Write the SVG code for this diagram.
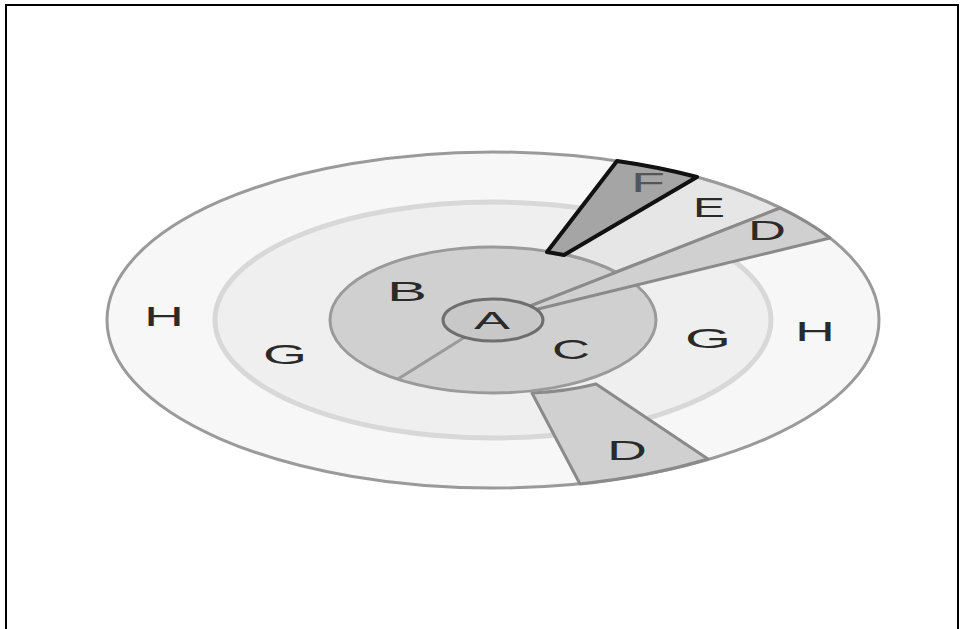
<svg xmlns="http://www.w3.org/2000/svg" width="960" height="629" viewBox="0 0 960 629">
<style>
.lbl{font-family:"Liberation Sans",Arial,sans-serif;font-size:28px;fill:#2a2a2a;text-anchor:middle;}
.ring{stroke-width:3;}
.wedge{fill:#d0d0d0;stroke:#8a8a8a;stroke-width:3;stroke-linejoin:round;}
</style>
<rect x="0" y="0" width="960" height="629" fill="#ffffff"/>
<rect x="6" y="5" width="952" height="640" fill="none" stroke="#000" stroke-width="2"/>
<g id="H">
<ellipse cx="493" cy="320" rx="386" ry="168" fill="#f7f7f7" stroke="#9a9a9a" stroke-width="3"/>
</g>
<g id="G">
<ellipse cx="493" cy="320" rx="278" ry="118" fill="#efefef" stroke="#d8d8d8" stroke-width="5"/>
</g>
<g id="D-lower">
<path class="wedge" d="M532,393 L580,484 A386,168 0 0 0 708,459 L596,384 A163,73 0 0 1 532,393 Z"/>
</g>
<g id="BC">
<ellipse cx="493" cy="320" rx="163" ry="73" fill="#d0d0d0" stroke="#9a9a9a" stroke-width="3"/>
</g>
<g id="E">
<path d="M564,254 L697,177 A386,168 0 0 1 780,208 L616,272 A163,73 0 0 0 564,254 Z" fill="#e6e6e6" stroke="#9a9a9a" stroke-width="3" stroke-linejoin="round"/>
</g>
<g id="D-upper">
<path class="wedge" d="M530,306 L780,208 A386,168 0 0 1 830,238 L536,309.5 Z"/>
</g>
<g id="connectors">
<line x1="465" y1="337" x2="398" y2="379" stroke="#9a9a9a" stroke-width="3"/>
</g>
<g id="A">
<ellipse cx="493" cy="320" rx="50" ry="21" fill="#c8c8c8" stroke="#6e6e6e" stroke-width="3"/>
</g>
<g id="F">
<path d="M547,252 L617,161 A386,168 0 0 1 697,177 L564,255 Z" fill="#a5a5a5" stroke="#111" stroke-width="4" stroke-linejoin="round"/>
</g>
<g id="labels">
<text class="lbl" x="164" y="326" textLength="40" lengthAdjust="spacingAndGlyphs">H</text>
<text class="lbl" x="285" y="364" textLength="44" lengthAdjust="spacingAndGlyphs">G</text>
<text class="lbl" x="407" y="301" textLength="40" lengthAdjust="spacingAndGlyphs">B</text>
<text class="lbl" x="492" y="329" style="font-size:24px" textLength="36" lengthAdjust="spacingAndGlyphs">A</text>
<text class="lbl" x="571" y="359" textLength="38" lengthAdjust="spacingAndGlyphs">C</text>
<text class="lbl" x="708" y="348" textLength="46" lengthAdjust="spacingAndGlyphs">G</text>
<text class="lbl" x="815" y="341" textLength="40" lengthAdjust="spacingAndGlyphs">H</text>
<text class="lbl" x="767" y="240" textLength="38" lengthAdjust="spacingAndGlyphs">D</text>
<text class="lbl" x="709" y="217" textLength="32" lengthAdjust="spacingAndGlyphs">E</text>
<text class="lbl" x="648" y="192" style="fill:#555" textLength="34" lengthAdjust="spacingAndGlyphs">F</text>
<text class="lbl" x="627" y="460" textLength="40" lengthAdjust="spacingAndGlyphs">D</text>
</g>
</svg>
